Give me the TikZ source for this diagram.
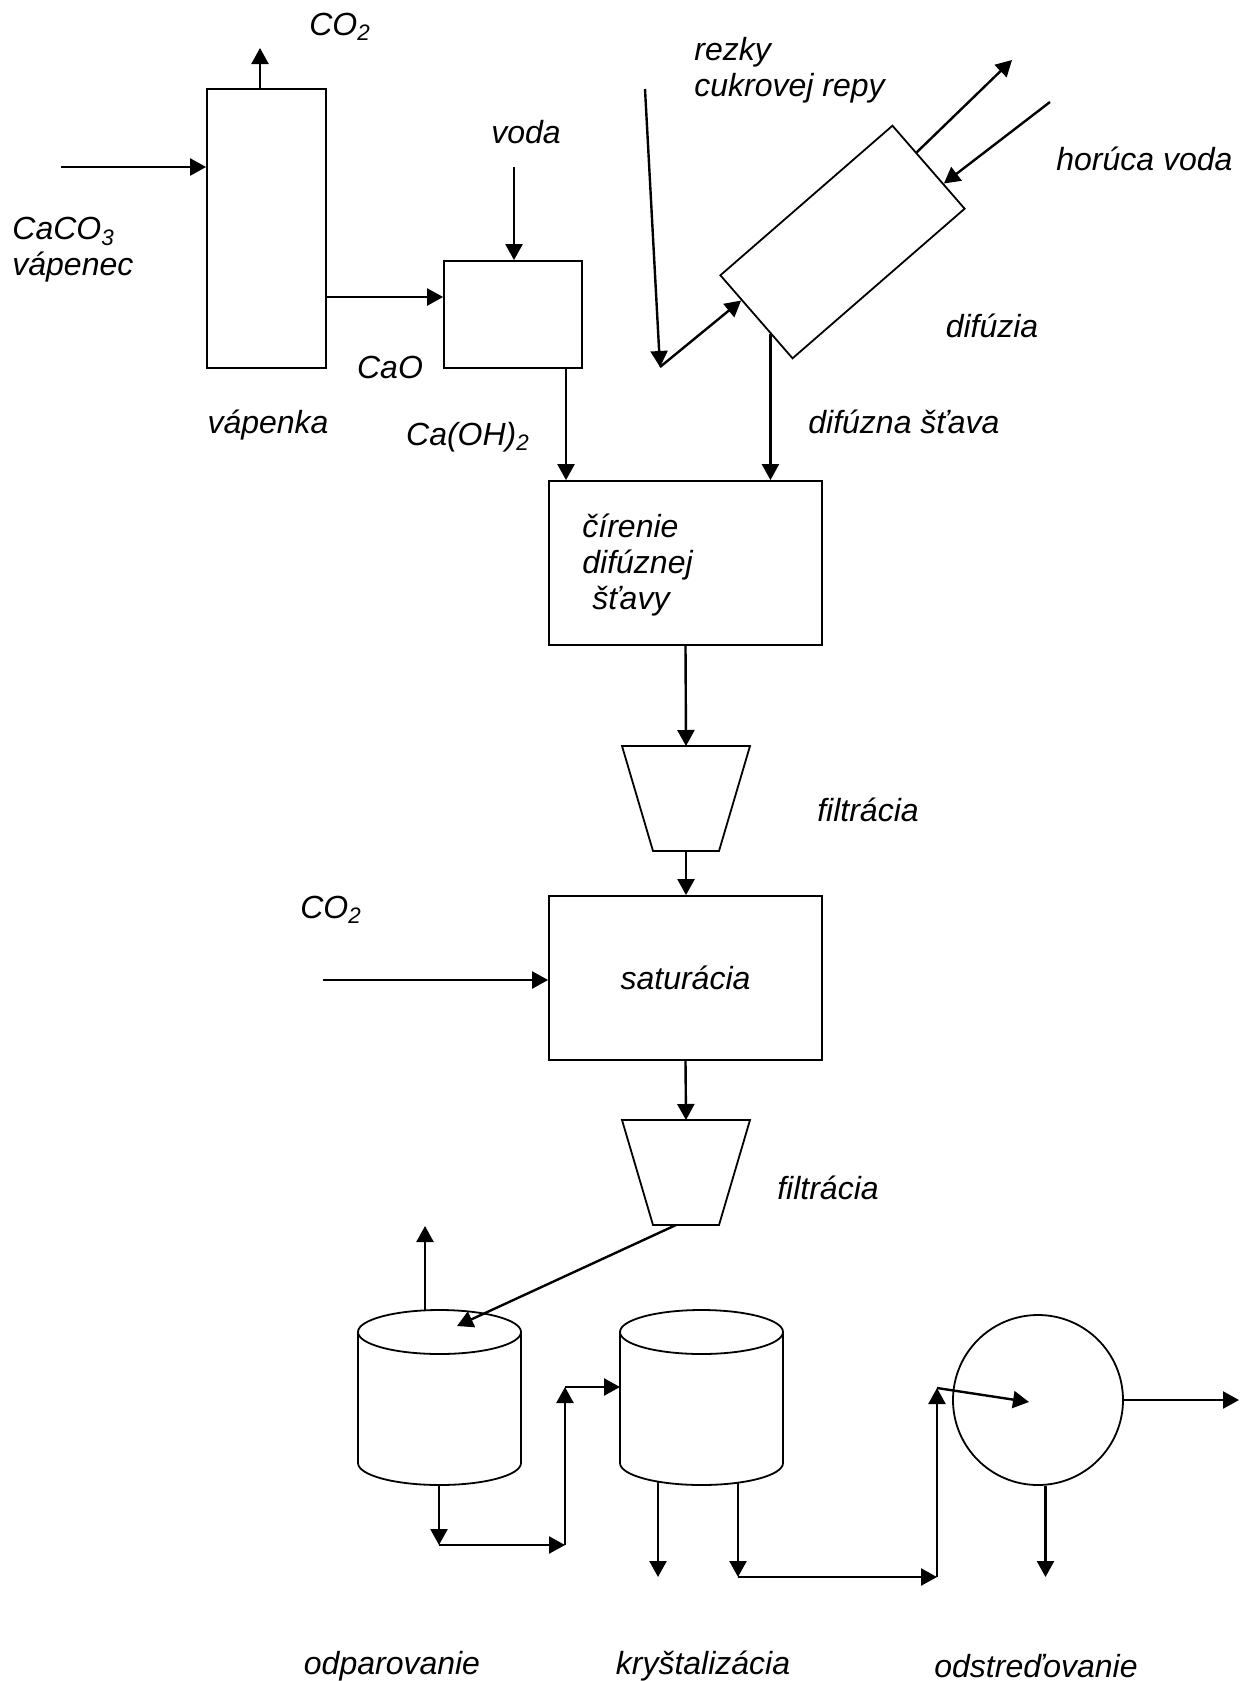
\documentclass[tikz,border=0pt]{standalone}
\usepackage{fontspec}
\setmainfont{Liberation Sans}
\usetikzlibrary{arrows.meta,calc}

\tikzset{
  unit/.style={draw, line width=0.9pt, inner sep=0pt},
  flow/.style={-{Triangle[length=8pt,width=8.5pt]}, line width=1.2pt},
  lbl/.style={inner sep=1pt}
}

\begin{document}
\begin{tikzpicture}[x=0.5pt,y=0.5pt,font=\fontsize{16}{18}\selectfont\itshape]
\useasboundingbox (0,0) rectangle (1243,-1681);

% apparatus
\node[unit, minimum width=59.5pt, minimum height=139.5pt] (vap) at (266.5,-228.5) {};
\node[unit, minimum width=69pt, minimum height=53.5pt] (slk) at (513,-314.5) {};
\node[unit, minimum width=114pt, minimum height=55pt, rotate=41] (dif) at (842.5,-242) {};
\node[unit, minimum width=136.5pt, minimum height=82pt] (clar) at (685.5,-563) {};
\node[unit, minimum width=136.5pt, minimum height=82pt] (sat) at (685.5,-978) {saturácia};
\node[unit, circle, minimum size=85pt] (cent) at (1038,-1400) {};

% filters
\foreach \fy/\fn in {746/f1,1120/f2}{
  \draw[line width=0.9pt] (622,-\fy) -- (750,-\fy) -- (719,-\fy-105) -- (653,-\fy-105) -- cycle;
  \coordinate (\fn top) at (686,-\fy);
  \coordinate (\fn bot) at (686,-\fy-105);
}

% evaporator and crystallizer
\foreach \cx in {439.5,701.5}{
  \draw[line width=0.9pt] (\cx-81.5,-1332) -- (\cx-81.5,-1463)
    arc[start angle=180, end angle=360, x radius=81.5, y radius=22] -- (\cx+81.5,-1332);
  \draw[line width=0.9pt] (\cx,-1332) ellipse[x radius=81.5, y radius=22];
}

% labels
\node[lbl] (co2a) at (340,-27) {CO\textsubscript{2}};
\node[lbl, align=left, anchor=west] (caco3) at (10,-250) {CaCO\textsubscript{3}\\vápenec};
\node[lbl] (voda) at (526,-132) {voda};
\node[lbl] (cao) at (390,-367) {CaO};
\node[lbl] (vapl) at (268,-425) {vápenka};
\node[lbl] (ohl) at (468,-437) {Ca(OH)\textsubscript{2}};
\node[lbl, align=left, anchor=west] (rezl) at (692,-70) {rezky\\cukrovej repy};
\node[lbl, anchor=west] (hotl) at (1054,-159) {horúca voda};
\node[lbl] (difl) at (992,-326) {difúzia};
\node[lbl, anchor=west] (juicel) at (806,-422) {difúzna šťava};
\node[lbl, align=left, anchor=west] (clarl) at (580,-565) {čírenie\\difúznej\\\hspace*{5pt}šťavy};
\node[lbl] (filt1) at (868,-810) {filtrácia};
\node[lbl] (co2b) at (331,-910) {CO\textsubscript{2}};
\node[lbl] (filt2) at (828,-1188) {filtrácia};
\node[lbl] (evapl) at (392,-1666) {odparovanie};
\node[lbl] (krysl) at (703,-1666) {kryštalizácia};
\node[lbl] (centl) at (1036,-1666) {odstreďovanie};

% free ends
\coordinate (caco3in) at (61,-167);
\coordinate (co2out) at (260,-48);
\coordinate (caolvl) at (0,-297);
\coordinate (vodain) at (514,-167);
\coordinate (limeout) at (566,-368);
\coordinate (rezin) at (645,-89);
\coordinate (rezturn) at (660,-367);
\coordinate (difout) at (1012,-60);
\coordinate (hotin) at (1050,-102);
\coordinate (juice) at ($(dif.north west)!0.7!(dif.south west)$);
\coordinate (co2in) at (323,-980);
\coordinate (evapin) at (457,-1326);
\coordinate (evaptop) at (425,-1310);
\coordinate (vapour) at (425,-1226);
\coordinate (e1) at (439,-1485);
\coordinate (e2) at (439,-1545);
\coordinate (e3) at (565,-1545);
\coordinate (e4) at (565,-1387);
\coordinate (e5) at (620,-1387);
\coordinate (k1) at (658,-1482);
\coordinate (k2) at (658,-1577);
\coordinate (k3) at (738,-1483);
\coordinate (k4) at (738,-1577);
\coordinate (k5) at (937,-1577);
\coordinate (k6) at (937,-1388);
\coordinate (k7) at (1029,-1402);
\coordinate (sugar) at (1239,-1400);

% flows
\draw[flow] (caco3in) -- (caco3in -| vap.west);
\draw[flow] (co2out |- vap.north) -- (co2out);
\draw[flow] (vap.east |- caolvl) -- (slk.west |- caolvl);
\draw[flow] (vodain) -- (vodain |- slk.north);
\draw[flow] (slk.south -| limeout) -- (clar.north -| limeout);
\draw[flow] (rezin) -- (rezturn);
\draw[flow] (rezturn) -- ($(dif.north west)!0.3!(dif.south west)$);
\draw[flow] ($(dif.north east)!0.33!(dif.south east)$) -- (difout);
\draw[flow] (hotin) -- ($(dif.north east)!0.7!(dif.south east)$);
\draw[flow] (juice) -- (juice |- clar.north);
\draw[flow] (clar.south) -- (f1top);
\draw[flow] (f1bot) -- (f1bot |- sat.north);
\draw[flow] (co2in) -- (co2in -| sat.west);
\draw[flow] (sat.south) -- (f2top);
\draw[flow] ([xshift=-5pt]f2bot) -- (evapin);
\draw[flow] (evaptop) -- (vapour);
\foreach \a/\b in {e1/e2,e2/e3,e3/e4,e4/e5,k1/k2,k3/k4,k4/k5,k5/k6,k6/k7}
  \draw[flow] (\a) -- (\b);
\draw[flow] (cent.east) -- (sugar);
\draw[flow] (cent.-85) -- (cent.-85 |- k2);
\end{tikzpicture}
\end{document}
